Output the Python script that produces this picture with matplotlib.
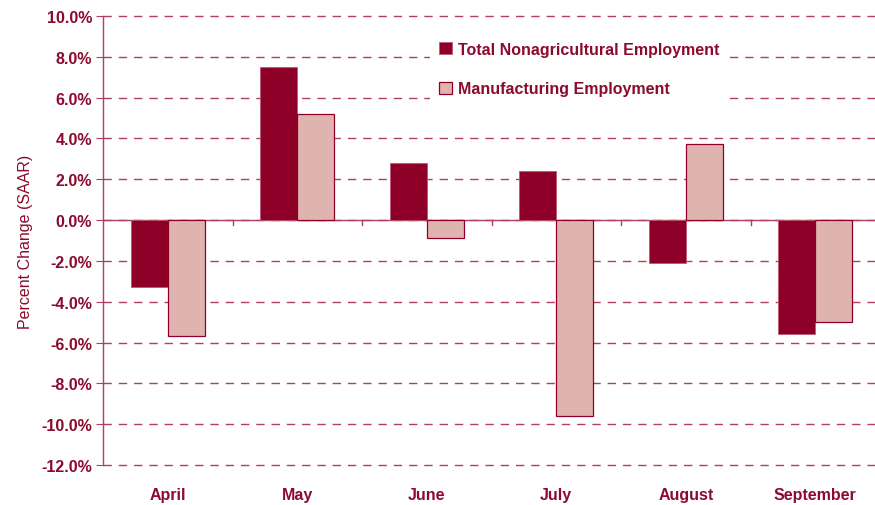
import matplotlib
matplotlib.use("Agg")
import matplotlib.pyplot as plt
import numpy as np
from matplotlib.ticker import FuncFormatter

plt.rcParams['font.family'] = ['Liberation Sans Narrow', 'Liberation Sans', 'DejaVu Sans']

months = ['April', 'May', 'June', 'July', 'August', 'September']
total_nonag = [-3.3, 7.5, 2.8, 2.4, -2.1, -5.6]
manufacturing = [-5.7, 5.2, -0.9, -9.6, 3.75, -5.0]

dark = '#8F0028'
light = '#E0B4AE'
txt = '#8B0A2E'
grid = '#B04060'

fig = plt.figure(figsize=(8.75, 5.06), dpi=100)
ax = fig.add_axes([103 / 875, 1 - 466 / 506, 777 / 875, 449 / 506])

x = np.arange(len(months))
w = 0.286
ax.bar(x - w / 2, total_nonag, w, color=dark, edgecolor='#B85A75', linewidth=0.6,
       label='Total Nonagricultural Employment', zorder=3)
ax.bar(x + w / 2, manufacturing, w, color=light, edgecolor=dark, linewidth=0.9,
       label='Manufacturing Employment', zorder=3)

ax.set_xlim(-0.5, 5.5)
ax.set_ylim(-12, 10)
ax.set_yticks(np.arange(-12, 10.1, 2))
ax.yaxis.set_major_formatter(FuncFormatter(lambda v, p: f'{v:.1f}%'))
for v in np.arange(-12, 10.1, 2):
    ax.axhline(v, color=grid, lw=1.0, ls=(0, (6, 5)), zorder=1, clip_on=False)
ax.axhline(0, color=grid, lw=1.0, zorder=2)

ax.set_xticks(x)
ax.set_xticklabels(months)
ax.tick_params(axis='x', which='major', length=0, pad=15.5, labelsize=11.5, labelcolor=txt)
for t in ax.get_xticklabels():
    t.set_fontweight('bold')

# small ticks hang down from the zero line between months
for m in np.arange(0.5, 5.5, 1):
    ax.plot([m, m], [0, -0.25], color=grid, lw=1.0, zorder=2)

ax.tick_params(axis='y', length=5, color=grid, labelsize=11.5, labelcolor=txt, pad=3)
for t in ax.get_yticklabels():
    t.set_fontweight('bold')

for s in ['top', 'right', 'bottom']:
    ax.spines[s].set_visible(False)
ax.spines['left'].set_color(grid)
ax.spines['left'].set_linewidth(1.0)

ax.set_ylabel('Percent Change (SAAR)', color=txt, fontsize=11.5, labelpad=6)

leg = ax.legend(loc='upper left', bbox_to_anchor=(0.41, 0.982), frameon=True,
                facecolor='white', edgecolor='none', framealpha=1,
                fontsize=11.5, handlelength=0.8, handleheight=0.8,
                handletextpad=0.4, labelspacing=1.55, borderpad=0.6)
leg.set_zorder(4)
for t in leg.get_texts():
    t.set_color(txt)
    t.set_fontweight('bold')

fig.savefig('out.png', dpi=100)
